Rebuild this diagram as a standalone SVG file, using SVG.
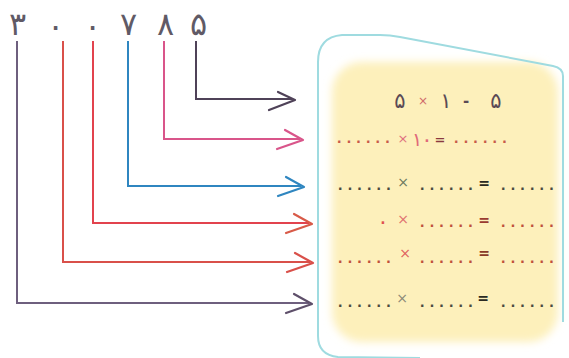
<svg xmlns="http://www.w3.org/2000/svg" width="569" height="358" viewBox="0 0 569 358">
<style>
.dg{font-family:"DejaVu Sans",sans-serif;font-size:32px;font-weight:200;fill:#605a66;text-anchor:middle}
.eq{font-family:"DejaVu Sans",sans-serif;text-anchor:middle}
.dots{font-family:"Liberation Sans",sans-serif;font-size:16px;letter-spacing:5.2px;font-weight:bold}
.ln{fill:none;stroke-width:2;stroke-linejoin:miter}
.hd{fill:none;stroke-width:2.2;stroke-linecap:round;stroke-linejoin:round}
</style>
<defs>
<filter id="soft" x="-10%" y="-10%" width="120%" height="120%"><feGaussianBlur stdDeviation="4"/></filter>
</defs>
<rect width="569" height="358" fill="#ffffff"/>
<g id="number">
<text class="dg" x="17" y="35">۳</text>
<text class="dg" x="55" y="37" font-size="34">۰</text>
<text class="dg" x="92" y="37" font-size="34">۰</text>
<text class="dg" x="128" y="35">۷</text>
<text class="dg" x="165" y="35">۸</text>
<text class="dg" x="198" y="35">۵</text>
</g>
<g id="box">
<rect x="332" y="62" width="226" height="280" rx="30" fill="#fdf0bb" filter="url(#soft)"/>
<path d="M563,322 L563,76 Q563,68 553,66 L400,37 Q390,35 380,35 L342,35 Q318,37 318,62 L318,336 Q318,355 338,357 L420,358" fill="none" stroke="#9fdbe0" stroke-width="2"/>
</g>
<g id="connectors">
<path class="ln" stroke="#4f4258" d="M196,41 V99 H292"/>
<path class="hd" stroke="#4f4258" d="M278,92 L295,100 L269,110"/>
<path class="ln" stroke="#d9558a" d="M164,41 V139 H300"/>
<path class="hd" stroke="#d9558a" d="M285,130 L303,140 L277,149"/>
<path class="ln" stroke="#2f86c0" d="M128,41 V186 H301"/>
<path class="hd" stroke="#2f86c0" d="M286,177 L304,187 L278,196"/>
<path class="ln" stroke="#e2434e" d="M93,41 V223 H309"/>
<path class="hd" stroke="#d85a48" d="M294,214 L312,224 L286,233"/>
<path class="ln" stroke="#d9504a" d="M63,41 V262 H310"/>
<path class="hd" stroke="#d9504a" d="M295,253 L313,263 L287,272"/>
<path class="ln" stroke="#6e5f7e" d="M17,41 V303 H309"/>
<path class="hd" stroke="#5e4f6a" d="M294,294 L312,304 L286,313"/>
</g>
<g id="row1">
<text class="eq" x="400" y="108" font-size="21" fill="#5a4a55">۵</text>
<text class="eq" x="423" y="105" font-size="12" fill="#d06a6a">×</text>
<text class="eq" x="446" y="108" font-size="21" fill="#5a4a55">۱</text>
<text class="eq" x="466" y="106" font-size="15" font-weight="bold" fill="#5a4a55">-</text>
<text class="eq" x="496" y="108" font-size="21" fill="#5a4a55">۵</text>
</g>
<g id="row2">
<text class="dots" x="337" y="143" fill="#c85a4a">......</text>
<text class="eq" x="403" y="143" font-size="13" fill="#e07080">×</text>
<text class="eq" x="417" y="146" font-size="19" fill="#e06a7a">۱</text>
<text class="eq" x="427" y="147" font-size="22" fill="#e06a7a">۰</text>
<text class="eq" x="440" y="144" font-size="13" font-weight="bold" fill="#8a3a40">=</text>
<text class="dots" x="454" y="143" fill="#c85a4a">......</text>
</g>
<g id="row3">
<text class="dots" x="338" y="190" fill="#4a4a40">......</text>
<text class="eq" x="403" y="187" font-size="14" fill="#6a7a60">×</text>
<text class="dots" x="420" y="190" fill="#4a4a40">......</text>
<text class="eq" x="484" y="188" font-size="14" font-weight="bold" fill="#2a2a22">=</text>
<text class="dots" x="501" y="190" fill="#4a4a40">......</text>
</g>
<g id="row4">
<text class="eq" x="383" y="229" font-size="22" fill="#e05050">۰</text>
<text class="eq" x="403" y="224" font-size="14" fill="#e07070">×</text>
<text class="dots" x="420" y="227" fill="#c0503a">......</text>
<text class="eq" x="484" y="225" font-size="14" font-weight="bold" fill="#9a3a30">=</text>
<text class="dots" x="501" y="227" fill="#c0503a">......</text>
</g>
<g id="row5">
<text class="dots" x="338" y="263" fill="#c0503a">......</text>
<text class="eq" x="405" y="258" font-size="14" fill="#e06060">×</text>
<text class="dots" x="420" y="263" fill="#c0503a">......</text>
<text class="eq" x="484" y="258" font-size="14" font-weight="bold" fill="#8a3a28">=</text>
<text class="dots" x="501" y="263" fill="#c0503a">......</text>
</g>
<g id="row6">
<text class="dots" x="338" y="307" fill="#4a4a40">......</text>
<text class="eq" x="402" y="303" font-size="14" fill="#8a8a78">×</text>
<text class="dots" x="420" y="307" fill="#4a4a40">......</text>
<text class="eq" x="483" y="303" font-size="14" font-weight="bold" fill="#2a2a22">=</text>
<text class="dots" x="501" y="307" fill="#4a4a40">......</text>
</g>
</svg>
